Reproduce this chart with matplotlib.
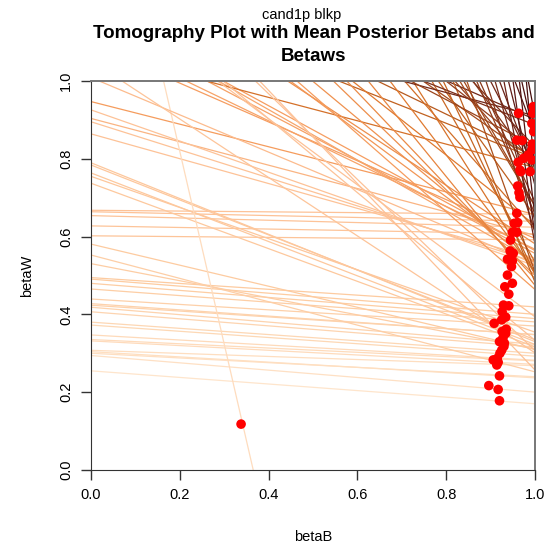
import matplotlib.pyplot as plt
from matplotlib.colors import LinearSegmentedColormap

plt.rcParams['font.family'] = ['Liberation Sans', 'DejaVu Sans']

# precinct fraction black (X) and turnout (T) -> tomography lines
frac_x = [0.078, 0.086, 0.057, 0.063, 0.038, 0.057, 0.052, 0.061, 0.074, 0.074,
          0.083, 0.087, 0.070, 0.074, 0.065, 0.078, 0.083, 0.083, 0.070, 0.180,
          0.231, 0.213, 0.010, 0.020, 0.029, 0.024, 0.010, 0.296, 0.286, 0.306,
          0.310, 0.315, 0.242, 0.265, 0.231, 0.286, 0.225,
          0.832,
          0.324, 0.429, 0.333, 0.355, 0.375, 0.394, 0.383, 0.231, 0.459, 0.487,
          0.524, 0.545,
          0.429, 0.459, 0.500, 0.487, 0.524, 0.310, 0.545, 0.474, 0.583, 0.355,
          0.600, 0.565, 0.643, 0.444, 0.667, 0.615, 0.706, 0.333, 0.737, 0.655,
          0.762, 0.545, 0.722,
          0.231, 0.310, 0.375, 0.474, 0.565, 0.667, 0.615, 0.714, 0.778, 0.688,
          0.800, 0.750, 0.857, 0.818, 0.889, 0.750, 0.909, 0.833, 0.923, 0.857]
turnout = [0.235, 0.269, 0.283, 0.285, 0.296, 0.313, 0.318, 0.326, 0.345, 0.352,
           0.373, 0.382, 0.394, 0.396, 0.411, 0.429, 0.440, 0.450, 0.460, 0.435,
           0.425, 0.457, 0.596, 0.615, 0.635, 0.648, 0.661, 0.519, 0.539, 0.530,
           0.541, 0.541, 0.655, 0.658, 0.695, 0.661, 0.734,
           0.304,
           0.682, 0.601, 0.730, 0.721, 0.723, 0.719, 0.731, 0.829, 0.672, 0.658,
           0.670, 0.662,
           0.761, 0.747, 0.732, 0.756, 0.762, 0.863, 0.769, 0.805, 0.781, 0.874,
           0.804, 0.834, 0.823, 0.888, 0.845, 0.866, 0.854, 0.934, 0.864, 0.889,
           0.883, 0.923, 0.905,
           0.931, 0.922, 0.895, 0.905, 0.898, 0.893, 0.914, 0.911, 0.914, 0.931,
           0.928, 0.940, 0.940, 0.951, 0.956, 0.966, 0.968, 0.975, 0.982, 0.987]

# mean posterior betaB / betaW per precinct
beta_b = [0.338, 0.920, 0.896, 0.917, 0.920,
          0.947, 0.938, 0.949, 0.932, 0.941, 0.929, 0.941, 0.926, 0.934, 0.908,
          0.925, 0.926, 0.934, 0.920, 0.931, 0.925, 0.921, 0.915, 0.906, 0.917,
          0.914, 0.928, 0.930, 0.935,
          0.968, 0.989, 0.961, 0.964, 0.966, 0.959, 0.961, 0.953, 0.949, 0.959,
          0.945, 0.944, 0.951, 0.938, 0.949,
          0.963, 0.996, 0.995, 0.993, 0.959, 0.971, 0.994, 0.993, 0.985, 0.974,
          0.962, 0.993, 0.966, 0.997]
beta_w = [0.118, 0.242, 0.217, 0.207, 0.178,
          0.523, 0.501, 0.480, 0.471, 0.452, 0.424, 0.422, 0.407, 0.393, 0.377,
          0.386, 0.356, 0.351, 0.330, 0.326, 0.308, 0.300, 0.287, 0.283, 0.277,
          0.270, 0.340, 0.318, 0.362,
          0.767, 0.767, 0.730, 0.713, 0.701, 0.660, 0.636, 0.634, 0.611, 0.611,
          0.591, 0.563, 0.557, 0.542, 0.538,
          0.917, 0.934, 0.917, 0.891, 0.848, 0.847, 0.838, 0.823, 0.810, 0.801,
          0.791, 0.797, 0.771, 0.870]

cmap = LinearSegmentedColormap.from_list("tomog", [
    (0.0, "#FEE6CE"), (0.30, "#FDCBA0"), (0.58, "#FDC196"), (0.66, "#F59B5C"),
    (0.75, "#E07A30"), (0.83, "#C0601E"), (0.88, "#8E3A1A"), (0.94, "#5E1A16"),
    (1.0, "#3E0808")])
t_min, t_max = 0.22, 1.0

fig = plt.figure(figsize=(5.5, 5.44), dpi=100)
ax = fig.add_axes([91 / 550, 1 - 470 / 544, 444 / 550, 389 / 544])

for x, t in zip(frac_x, turnout):
    w0 = t / (1 - x)
    w1 = (t - x) / (1 - x)
    c = cmap((t - t_min) / (t_max - t_min))
    ax.plot([0, 1], [w0, w1], color=c, lw=0.9, solid_capstyle='butt')

ax.scatter(beta_b, beta_w, s=48, color='#FF0000', edgecolors='none', zorder=5)

ax.set_xlim(0, 1)
ax.set_ylim(0, 1)
ticks = [0.0, 0.2, 0.4, 0.6, 0.8, 1.0]
ax.set_xticks(ticks)
ax.set_yticks(ticks)
ax.set_xticklabels([f"{v:.1f}" for v in ticks])
ax.set_yticklabels([f"{v:.1f}" for v in ticks], rotation=90, va='center')
ax.tick_params(length=7, width=1, labelsize=10.5, pad=6, color='#333333')
for side in ['left', 'bottom']:
    ax.spines[side].set_color('#333333')
for side in ['top', 'right']:
    ax.spines[side].set_color('#777777')
    ax.spines[side].set_linewidth(1.4)

ax.set_xlabel("betaB", fontsize=10.5, labelpad=20)
ax.set_ylabel("betaW", fontsize=10.5, labelpad=18)

fig.text(302 / 550, 1 - 15 / 544, "cand1p blkp", ha='center', va='center', fontsize=10.5)
fig.text(314 / 550, 1 - 45 / 544, "Tomography Plot with Mean Posterior Betabs and\nBetaws",
         ha='center', va='center', fontsize=13.5, fontweight='bold', linespacing=1.4)

fig.savefig("out.png", dpi=100)
